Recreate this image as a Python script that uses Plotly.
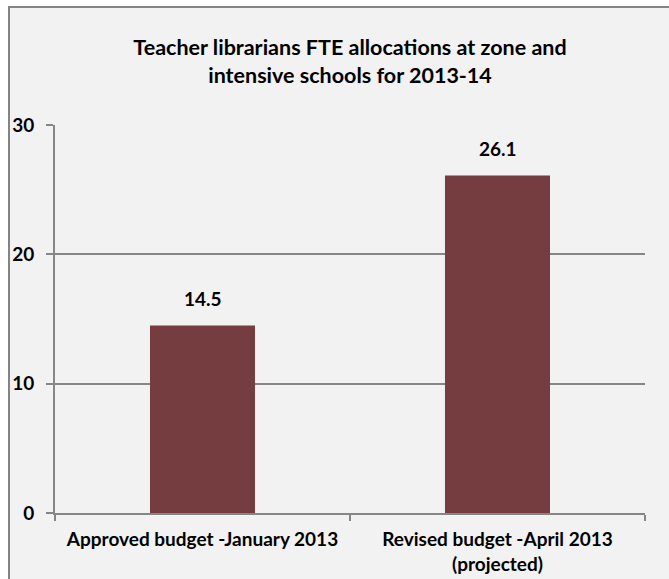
import plotly.graph_objects as go

categories = ["Approved budget -January 2013", "Revised budget -April 2013<br>(projected)"]
values = [14.5, 26.1]
value_labels = ["14.5", "26.1"]
y_ticks = [0, 10, 20, 30]
title_text = "Teacher librarians FTE allocations at zone and<br>intensive schools for 2013-14"

FONT = "Lato"
GRAY = "#868686"
BORDER = "#848484"

fig = go.Figure()
fig.add_trace(go.Bar(
    x=categories, y=values,
    marker=dict(color="#753d3f", line=dict(width=0)),
    width=0.356,
))

for c, v, t in zip(categories, values, value_labels):
    fig.add_annotation(x=c, y=v, text=t, showarrow=False, yanchor="bottom", yshift=13,
                       font=dict(family=FONT, size=19, color="black", weight="bold"))

W, H = 669, 579
L, R, T, B = 55, 24, 125, 66
pw, ph = W - L - R, H - T - B

def px(x):
    return (x - L) / pw

def py(y):
    return (H - B - y) / ph

fig.update_layout(
    width=W, height=H,
    margin=dict(l=L, r=R, t=T, b=B, pad=0, autoexpand=False),
    paper_bgcolor="#f2f2f2",
    plot_bgcolor="rgba(0,0,0,0)",
    showlegend=False,
    title=dict(text=title_text, x=0.5, xref="paper", y=1 - 55 / H, yanchor="middle",
               font=dict(family=FONT, size=21.5, color="black", weight="bold")),
    shapes=[
        dict(type="rect", xref="paper", yref="paper",
             x0=px(-20), x1=px(8), y0=py(-20), y1=py(640),
             fillcolor="white", line=dict(width=0), layer="below"),
        dict(type="rect", xref="paper", yref="paper",
             x0=px(-20), x1=px(720), y0=py(-20), y1=py(6),
             fillcolor="white", line=dict(width=0), layer="below"),
        dict(type="line", xref="paper", yref="paper",
             x0=px(9), x1=px(9), y0=py(6), y1=py(640),
             line=dict(color=BORDER, width=2), layer="below"),
        dict(type="line", xref="paper", yref="paper",
             x0=px(8), x1=px(720), y0=py(7), y1=py(7),
             line=dict(color=BORDER, width=2), layer="below"),
    ],
    xaxis=dict(showgrid=False, showline=True, linecolor=GRAY, linewidth=2, automargin=False,
               ticks="outside", tickson="boundaries", ticklen=6, tickcolor=GRAY, tickwidth=2,
               ticklabelstandoff=8,
               tickfont=dict(family=FONT, size=19, color="black", weight="bold")),
    yaxis=dict(range=[0, 30], tickvals=y_ticks, showgrid=True, gridcolor=GRAY, gridwidth=2,
               showline=True, linecolor=GRAY, linewidth=2, zeroline=False, automargin=False,
               ticks="outside", ticklen=7, tickcolor=GRAY, tickwidth=2,
               ticklabelstandoff=8,
               tickfont=dict(family=FONT, size=19, color="black", weight="bold")),
    bargap=0.644,
)

fig.write_html("out.html", config={"displayModeBar": False},
               post_script="document.documentElement.style.overflow='hidden';"
                           "document.body.style.margin='0';document.body.style.overflow='hidden';")
